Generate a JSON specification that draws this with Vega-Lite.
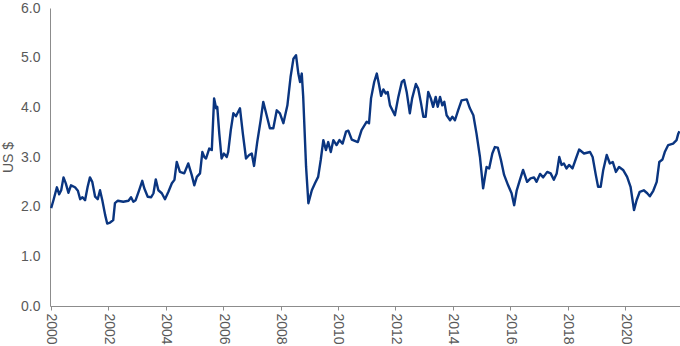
{
  "$schema": "https://vega.github.io/schema/vega-lite/v6.json",
  "autosize": {"type": "none"},
  "padding": {"left": 50, "top": 8, "right": 0, "bottom": 40},
  "width": 630,
  "height": 298,
  "background": "white",
  "config": {"view": {"stroke": null}, "font": "Liberation Sans"},
  "data": {"values": [
    {"year": 2000.02, "price": 1.97},
    {"year": 2000.10, "price": 2.13},
    {"year": 2000.22, "price": 2.39},
    {"year": 2000.30, "price": 2.25},
    {"year": 2000.37, "price": 2.33},
    {"year": 2000.45, "price": 2.59},
    {"year": 2000.53, "price": 2.47},
    {"year": 2000.62, "price": 2.28},
    {"year": 2000.71, "price": 2.43},
    {"year": 2000.85, "price": 2.39},
    {"year": 2000.95, "price": 2.32},
    {"year": 2001.03, "price": 2.15},
    {"year": 2001.11, "price": 2.19},
    {"year": 2001.20, "price": 2.13},
    {"year": 2001.29, "price": 2.40},
    {"year": 2001.37, "price": 2.59},
    {"year": 2001.45, "price": 2.50},
    {"year": 2001.55, "price": 2.20},
    {"year": 2001.64, "price": 2.15},
    {"year": 2001.72, "price": 2.33},
    {"year": 2001.80, "price": 2.13},
    {"year": 2001.90, "price": 1.83},
    {"year": 2001.97, "price": 1.66},
    {"year": 2002.07, "price": 1.68},
    {"year": 2002.18, "price": 1.73},
    {"year": 2002.24, "price": 2.07},
    {"year": 2002.34, "price": 2.12},
    {"year": 2002.53, "price": 2.10},
    {"year": 2002.71, "price": 2.12},
    {"year": 2002.80, "price": 2.19},
    {"year": 2002.88, "price": 2.10},
    {"year": 2002.96, "price": 2.13},
    {"year": 2003.08, "price": 2.33},
    {"year": 2003.19, "price": 2.52},
    {"year": 2003.26, "price": 2.37},
    {"year": 2003.38, "price": 2.20},
    {"year": 2003.50, "price": 2.19},
    {"year": 2003.58, "price": 2.27},
    {"year": 2003.66, "price": 2.55},
    {"year": 2003.75, "price": 2.33},
    {"year": 2003.87, "price": 2.27},
    {"year": 2003.98, "price": 2.15},
    {"year": 2004.10, "price": 2.30},
    {"year": 2004.22, "price": 2.47},
    {"year": 2004.31, "price": 2.54},
    {"year": 2004.39, "price": 2.90},
    {"year": 2004.50, "price": 2.70},
    {"year": 2004.65, "price": 2.67},
    {"year": 2004.79, "price": 2.87},
    {"year": 2004.91, "price": 2.64},
    {"year": 2005.00, "price": 2.43},
    {"year": 2005.09, "price": 2.60},
    {"year": 2005.20, "price": 2.67},
    {"year": 2005.28, "price": 3.10},
    {"year": 2005.35, "price": 3.00},
    {"year": 2005.41, "price": 2.97},
    {"year": 2005.52, "price": 3.17},
    {"year": 2005.61, "price": 3.14},
    {"year": 2005.69, "price": 4.18},
    {"year": 2005.76, "price": 3.98},
    {"year": 2005.80, "price": 4.01},
    {"year": 2005.87, "price": 3.47},
    {"year": 2005.95, "price": 2.97},
    {"year": 2006.03, "price": 3.07},
    {"year": 2006.13, "price": 3.00},
    {"year": 2006.18, "price": 3.10},
    {"year": 2006.27, "price": 3.54},
    {"year": 2006.36, "price": 3.88},
    {"year": 2006.45, "price": 3.82},
    {"year": 2006.59, "price": 3.98},
    {"year": 2006.69, "price": 3.47},
    {"year": 2006.80, "price": 2.97},
    {"year": 2006.91, "price": 3.04},
    {"year": 2007.00, "price": 3.07},
    {"year": 2007.08, "price": 2.82},
    {"year": 2007.19, "price": 3.30},
    {"year": 2007.31, "price": 3.74},
    {"year": 2007.40, "price": 4.11},
    {"year": 2007.50, "price": 3.88},
    {"year": 2007.63, "price": 3.58},
    {"year": 2007.75, "price": 3.58},
    {"year": 2007.87, "price": 3.94},
    {"year": 2007.98, "price": 3.88},
    {"year": 2008.10, "price": 3.68},
    {"year": 2008.24, "price": 4.04},
    {"year": 2008.35, "price": 4.61},
    {"year": 2008.45, "price": 4.98},
    {"year": 2008.54, "price": 5.05},
    {"year": 2008.62, "price": 4.68},
    {"year": 2008.68, "price": 4.51},
    {"year": 2008.74, "price": 4.68},
    {"year": 2008.79, "price": 4.21},
    {"year": 2008.89, "price": 2.80},
    {"year": 2008.97, "price": 2.07},
    {"year": 2009.09, "price": 2.33},
    {"year": 2009.20, "price": 2.47},
    {"year": 2009.31, "price": 2.60},
    {"year": 2009.40, "price": 2.94},
    {"year": 2009.49, "price": 3.34},
    {"year": 2009.58, "price": 3.14},
    {"year": 2009.66, "price": 3.30},
    {"year": 2009.75, "price": 3.10},
    {"year": 2009.84, "price": 3.34},
    {"year": 2009.95, "price": 3.24},
    {"year": 2010.05, "price": 3.34},
    {"year": 2010.16, "price": 3.27},
    {"year": 2010.28, "price": 3.51},
    {"year": 2010.36, "price": 3.53},
    {"year": 2010.48, "price": 3.35},
    {"year": 2010.69, "price": 3.30},
    {"year": 2010.82, "price": 3.54},
    {"year": 2011.00, "price": 3.71},
    {"year": 2011.08, "price": 3.68},
    {"year": 2011.15, "price": 4.18},
    {"year": 2011.26, "price": 4.51},
    {"year": 2011.35, "price": 4.68},
    {"year": 2011.43, "price": 4.45},
    {"year": 2011.50, "price": 4.23},
    {"year": 2011.58, "price": 4.36},
    {"year": 2011.66, "price": 4.28},
    {"year": 2011.73, "price": 4.31},
    {"year": 2011.81, "price": 4.04},
    {"year": 2011.98, "price": 3.84},
    {"year": 2012.10, "price": 4.21},
    {"year": 2012.22, "price": 4.51},
    {"year": 2012.30, "price": 4.55},
    {"year": 2012.39, "price": 4.31},
    {"year": 2012.50, "price": 3.88},
    {"year": 2012.58, "price": 4.18},
    {"year": 2012.71, "price": 4.47},
    {"year": 2012.79, "price": 4.38},
    {"year": 2012.89, "price": 4.08},
    {"year": 2012.97, "price": 3.81},
    {"year": 2013.05, "price": 3.81},
    {"year": 2013.14, "price": 4.31},
    {"year": 2013.23, "price": 4.18},
    {"year": 2013.31, "price": 4.01},
    {"year": 2013.40, "price": 4.21},
    {"year": 2013.47, "price": 4.01},
    {"year": 2013.55, "price": 4.21},
    {"year": 2013.63, "price": 4.04},
    {"year": 2013.70, "price": 4.11},
    {"year": 2013.78, "price": 3.84},
    {"year": 2013.90, "price": 3.74},
    {"year": 2013.98, "price": 3.81},
    {"year": 2014.07, "price": 3.74},
    {"year": 2014.18, "price": 3.94},
    {"year": 2014.30, "price": 4.14},
    {"year": 2014.48, "price": 4.16},
    {"year": 2014.59, "price": 3.98},
    {"year": 2014.71, "price": 3.84},
    {"year": 2014.82, "price": 3.47},
    {"year": 2014.94, "price": 3.00},
    {"year": 2015.05, "price": 2.37},
    {"year": 2015.17, "price": 2.80},
    {"year": 2015.26, "price": 2.77},
    {"year": 2015.37, "price": 3.07},
    {"year": 2015.46, "price": 3.20},
    {"year": 2015.56, "price": 3.19},
    {"year": 2015.67, "price": 2.94},
    {"year": 2015.78, "price": 2.64},
    {"year": 2015.92, "price": 2.43},
    {"year": 2016.04, "price": 2.27},
    {"year": 2016.13, "price": 2.03},
    {"year": 2016.22, "price": 2.33},
    {"year": 2016.33, "price": 2.54},
    {"year": 2016.44, "price": 2.74},
    {"year": 2016.58, "price": 2.50},
    {"year": 2016.70, "price": 2.57},
    {"year": 2016.82, "price": 2.59},
    {"year": 2016.91, "price": 2.50},
    {"year": 2017.03, "price": 2.66},
    {"year": 2017.14, "price": 2.59},
    {"year": 2017.28, "price": 2.70},
    {"year": 2017.40, "price": 2.67},
    {"year": 2017.51, "price": 2.54},
    {"year": 2017.61, "price": 2.67},
    {"year": 2017.70, "price": 3.00},
    {"year": 2017.78, "price": 2.84},
    {"year": 2017.86, "price": 2.87},
    {"year": 2017.95, "price": 2.77},
    {"year": 2018.04, "price": 2.84},
    {"year": 2018.16, "price": 2.77},
    {"year": 2018.28, "price": 2.97},
    {"year": 2018.39, "price": 3.15},
    {"year": 2018.56, "price": 3.07},
    {"year": 2018.77, "price": 3.10},
    {"year": 2018.86, "price": 3.00},
    {"year": 2018.97, "price": 2.64},
    {"year": 2019.05, "price": 2.40},
    {"year": 2019.14, "price": 2.40},
    {"year": 2019.23, "price": 2.74},
    {"year": 2019.35, "price": 3.04},
    {"year": 2019.46, "price": 2.87},
    {"year": 2019.56, "price": 2.90},
    {"year": 2019.67, "price": 2.70},
    {"year": 2019.78, "price": 2.80},
    {"year": 2019.92, "price": 2.74},
    {"year": 2020.06, "price": 2.60},
    {"year": 2020.18, "price": 2.40},
    {"year": 2020.30, "price": 1.93},
    {"year": 2020.39, "price": 2.13},
    {"year": 2020.50, "price": 2.30},
    {"year": 2020.64, "price": 2.33},
    {"year": 2020.76, "price": 2.27},
    {"year": 2020.85, "price": 2.21},
    {"year": 2020.97, "price": 2.32},
    {"year": 2021.09, "price": 2.50},
    {"year": 2021.18, "price": 2.90},
    {"year": 2021.29, "price": 2.95},
    {"year": 2021.37, "price": 3.10},
    {"year": 2021.49, "price": 3.24},
    {"year": 2021.66, "price": 3.27},
    {"year": 2021.78, "price": 3.34},
    {"year": 2021.84, "price": 3.47},
    {"year": 2021.88, "price": 3.52}
  ]},
  "mark": {"type": "line", "color": "#0a3580", "strokeWidth": 2.4, "strokeJoin": "round", "clip": true},
  "encoding": {
    "x": {
      "field": "year", "type": "quantitative",
      "scale": {"domain": [1999.98, 2021.9], "nice": false, "zero": false},
      "axis": {
        "title": null, "values": [2000, 2002, 2004, 2006, 2008, 2010, 2012, 2014, 2016, 2018, 2020],
        "format": "d", "labelAngle": 90, "labelAlign": "left", "labelBaseline": "middle",
        "grid": false, "domainColor": "#8c8c8c", "tickColor": "#8c8c8c", "tickSize": 4,
        "labelPadding": 3, "labelColor": "#595959", "labelFontSize": 14, "labelFont": "Liberation Sans"
      }
    },
    "y": {
      "field": "price", "type": "quantitative",
      "scale": {"domain": [0, 6], "nice": false},
      "axis": {
        "title": "US $", "values": [0, 1, 2, 3, 4, 5, 6], "format": ".1f",
        "grid": false, "ticks": false, "domainColor": "#8c8c8c",
        "labelPadding": 10, "labelColor": "#595959", "labelFontSize": 14, "labelFont": "Liberation Sans",
        "titleColor": "#595959", "titleFontSize": 14, "titleFontWeight": "normal", "titleFont": "Liberation Sans",
        "titlePadding": 5
      }
    }
  }
}
